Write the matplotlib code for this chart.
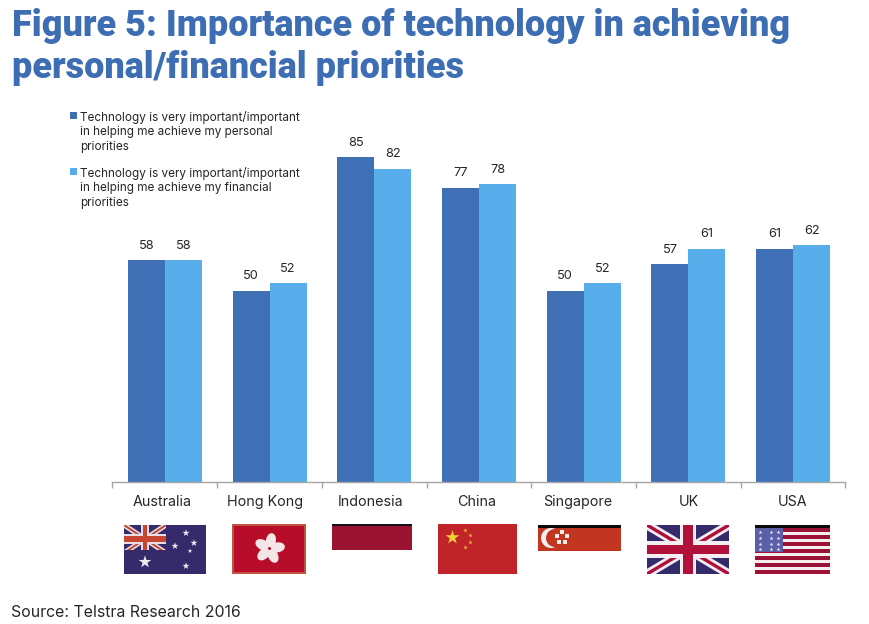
import numpy as np
import matplotlib
matplotlib.use("Agg")
import matplotlib.pyplot as plt
from matplotlib.patches import Rectangle, Circle, Ellipse
from matplotlib.transforms import ScaledTranslation

countries = ["Australia", "Hong Kong", "Indonesia", "China", "Singapore", "UK", "USA"]
personal = [58, 50, 85, 77, 50, 57, 61]
financial = [58, 52, 82, 78, 52, 61, 62]
legend_personal = "Technology is very important/important\nin helping me achieve my personal\npriorities"
legend_financial = "Technology is very important/important\nin helping me achieve my financial\npriorities"
title_text = "Figure 5: Importance of technology in achieving\npersonal/financial priorities"
source_text = "Source: Telstra Research 2016"

dark_blue = "#3f6fb5"
light_blue = "#58aeea"
title_blue = "#3d6db3"
text_col = "#262626"
grey = "#a6a6a6"
navy = "#352b6b"
red = "#b0103a"

plt.rcParams["font.family"] = ["Inter", "DejaVu Sans"]

fig = plt.figure(figsize=(8.7, 6.24), dpi=100, facecolor="white")
W, H = 870, 624

# chart axes, baseline sits at y=481.5px
ax = fig.add_axes([112.5 / W, (H - 481.5) / H, 733 / W, 381.5 / H])
x = np.arange(len(countries))
bw = 0.353
b1 = ax.bar(x - bw / 2, personal, bw, color=dark_blue)
b2 = ax.bar(x + bw / 2, financial, bw, color=light_blue)
ax.bar_label(b1, padding=6, fontsize=9.2, color=text_col)
ax.bar_label(b2, padding=6, fontsize=9.2, color=text_col)
ax.set_xlim(-0.5, len(countries) - 0.5)
ax.set_ylim(0, 100)
ax.set_yticks([])
for s in ["top", "left", "right"]:
    ax.spines[s].set_visible(False)
ax.spines["bottom"].set_color(grey)
ax.spines["bottom"].set_linewidth(1)
ax.set_xticks(x)
ax.set_xticklabels(countries, fontsize=10.3, color=text_col)
ax.tick_params(axis="x", which="major", length=0, pad=10)
ax.set_xticks(np.arange(len(countries) + 1) - 0.5, minor=True)
ax.tick_params(axis="x", which="minor", length=4, width=1, color=grey)
# labels in the original sit a little left of the group centre
for lbl, dx in zip(ax.get_xticklabels(), [-2.5, -4.5, -3.5, -2, -6, 0, -1]):
    lbl.set_transform(lbl.get_transform() + ScaledTranslation(dx / 100, 0, fig.dpi_scale_trans))

# overlay in pixel coords for title, legend and flags
ov = fig.add_axes([0, 0, 1, 1], facecolor="none")
ov.set_xlim(0, W)
ov.set_ylim(H, 0)
ov.axis("off")

ov.text(12, 47, title_text, fontsize=25.9, fontweight="black", color=title_blue,
        va="center", ha="left", linespacing=1.19, family=["Roboto", "DejaVu Sans"])
ov.text(11, 612.5, source_text, fontsize=11.45, color=text_col, va="center", ha="left")

for y0, col, label in [(112, dark_blue, legend_personal), (168, light_blue, legend_financial)]:
    ov.add_patch(Rectangle((70, y0), 7, 7, color=col, lw=0))
    ov.text(80, y0 - 1.5, label, fontsize=8.45, color=text_col, va="top", ha="left", linespacing=1.28)


def rect(x0, y0, x1, y1, col, z=3):
    ov.add_patch(Rectangle((x0, y0), x1 - x0, y1 - y0, color=col, lw=0, zorder=z))


def union_jack(x0, y0, x1, y1, bg, white, cross, z=3):
    w, h = x1 - x0, y1 - y0
    rect(x0, y0, x1, y1, bg, z)
    clip = Rectangle((x0, y0), w, h, transform=ov.transData)
    for (a, b) in [((x0, y0), (x1, y1)), ((x0, y1), (x1, y0))]:
        l1, = ov.plot([a[0], b[0]], [a[1], b[1]], color=white, lw=h * 0.13, zorder=z + 0.1, solid_capstyle="butt")
        l2, = ov.plot([a[0], b[0]], [a[1], b[1]], color=cross, lw=h * 0.05, zorder=z + 0.2, solid_capstyle="butt")
        l1.set_clip_path(clip)
        l2.set_clip_path(clip)
    cx, cy = (x0 + x1) / 2, (y0 + y1) / 2
    rect(cx - w * 0.1, y0, cx + w * 0.1, y1, white, z + 0.3)
    rect(x0, cy - h * 0.17, x1, cy + h * 0.17, white, z + 0.3)
    rect(cx - w * 0.055, y0, cx + w * 0.055, y1, cross, z + 0.4)
    rect(x0, cy - h * 0.1, x1, cy + h * 0.1, cross, z + 0.4)


# Australia
rect(124, 525, 206, 574, navy)
union_jack(124, 525, 166, 553, navy, "#e8dfe6", "#c8452f", z=3.2)
rect(124, 550, 166, 553, navy, z=3.9)
ov.scatter([145, 186, 194, 175, 190, 186], [562, 533, 543, 546, 551, 566], s=[90, 28, 28, 28, 12, 28],
           marker="*", color="#eeeaf2", lw=0, zorder=4)

# Hong Kong
rect(232, 524, 306, 574, "#c0533f")
rect(234, 526, 304, 572, "#b80d2a", z=3.1)
for ang in np.arange(5) * 72 + 10:
    px = 269.5 + 8 * np.sin(np.radians(ang))
    py = 548.5 - 8 * np.cos(np.radians(ang))
    ov.add_patch(Ellipse((px, py), 10, 15, angle=ang, color="#f4e6e6", lw=0, zorder=4))
ov.add_patch(Circle((269.5, 548.5), 1.5, color="#b80d2a", lw=0, zorder=5))

# Indonesia
rect(332, 524, 412, 550, "#9b1333")
rect(332, 524, 412, 526, "#14101a", z=3.1)

# China
rect(438, 524, 517, 574, "#c1232b")
ov.scatter([452], [537], s=110, marker="*", color="#f0d030", lw=0, zorder=4)
ov.scatter([465, 470, 470, 465], [530, 535, 542, 547], s=12, marker="*", color="#e8b030", lw=0, zorder=4)

# Singapore
rect(538, 525, 621, 551, "#c23520")
rect(538, 525, 621, 527.5, "#0a0a0a", z=3.1)
ov.add_patch(Circle((551, 538), 10, color="#f6eeee", lw=0, zorder=4))
ov.add_patch(Circle((555, 538), 9, color="#c23520", lw=0, zorder=4.1))
ov.scatter([562, 567, 565, 559, 557], [532, 535.5, 541.5, 541.5, 535.5], s=5, marker="s", color="#f6eeee", lw=0, zorder=4.2)

# UK
union_jack(647, 525, 729, 574, navy, "#f2eef2", red)

# USA
stripes = np.linspace(528, 574, 14)
rect(755, 525, 830, 574, "#f4eeee")
for i in range(0, 13, 2):
    rect(755, stripes[i], 830, stripes[i + 1], "#9c1236", z=3.1)
rect(755, 525, 830, 528, "#0a0a0a", z=3.2)
rect(755, 528, 783, 552, "#5a5fa8", z=3.3)
ov.scatter(np.tile([760, 771, 778], 4), np.repeat([532, 538, 544, 549], 3), s=9, marker="*",
           color="#e8e8f4", lw=0, zorder=4)

fig.savefig("out.png", dpi=100)
